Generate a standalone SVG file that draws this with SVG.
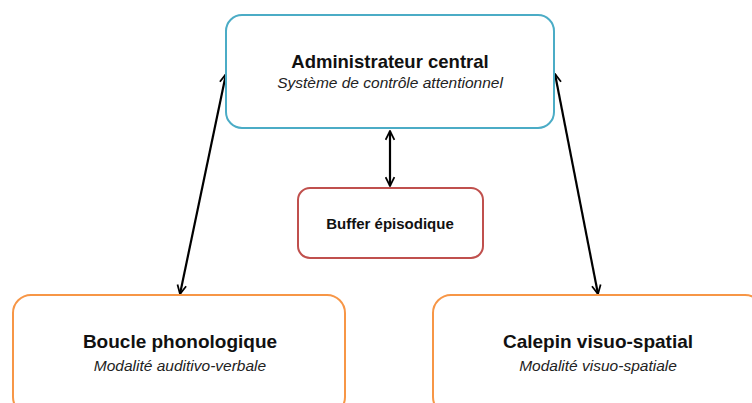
<svg xmlns="http://www.w3.org/2000/svg" width="752" height="403" viewBox="0 0 752 403">
<defs>
<style>
.box{fill:#ffffff;stroke-width:2}
.t{font-family:"Liberation Sans",Arial,sans-serif;font-weight:bold;fill:#111;text-anchor:middle}
.s{font-family:"Liberation Sans",Arial,sans-serif;font-style:italic;fill:#222;text-anchor:middle}
.c{stroke:#000;stroke-width:2.2;fill:none;marker-start:url(#a);marker-end:url(#a)}
</style>
<marker id="a" viewBox="0 0 10 10" refX="9" refY="5" markerWidth="5" markerHeight="5" orient="auto-start-reverse" markerUnits="strokeWidth">
<path d="M1,1 L9,5 L1,9" fill="none" stroke="#000" stroke-width="1.6"/>
</marker>
</defs>
<rect width="752" height="403" fill="#ffffff"/>
<g id="connectors">
<line class="c" x1="226" y1="74" x2="180" y2="294"/>
<line class="c" x1="555" y1="74" x2="598" y2="294"/>
<line class="c" x1="390" y1="131" x2="390" y2="186"/>
</g>
<g id="admin">
<rect class="box" x="226" y="15" width="328" height="113" rx="16" stroke="#4bacc6"/>
<text class="t" x="390" y="68" font-size="18.5">Administrateur central</text>
<text class="s" x="390" y="88" font-size="15.5">Système de contrôle attentionnel</text>
</g>
<g id="buffer">
<rect class="box" x="298" y="188" width="185" height="70" rx="12" stroke="#c0504d"/>
<text class="t" x="390" y="229" font-size="15">Buffer épisodique</text>
</g>
<g id="boucle">
<rect class="box" x="13" y="295" width="332" height="120" rx="18" stroke="#f79646"/>
<text class="t" x="180" y="348" font-size="19">Boucle phonologique</text>
<text class="s" x="180" y="371" font-size="15.5">Modalité auditivo-verbale</text>
</g>
<g id="calepin">
<rect class="box" x="433" y="295" width="330" height="120" rx="18" stroke="#f79646"/>
<text class="t" x="598" y="348" font-size="19">Calepin visuo-spatial</text>
<text class="s" x="598" y="371" font-size="15.5">Modalité visuo-spatiale</text>
</g>
</svg>
